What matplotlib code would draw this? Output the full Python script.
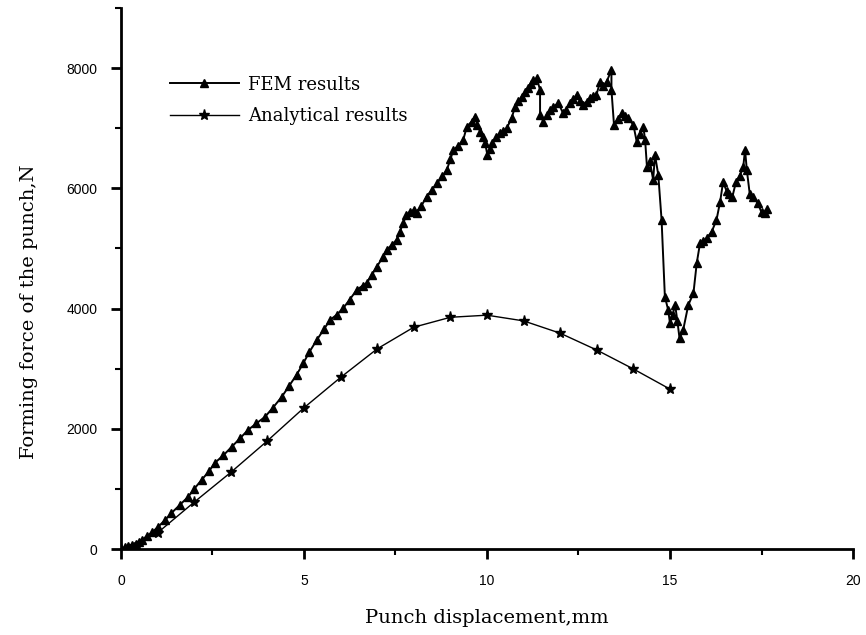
import matplotlib
matplotlib.use("Agg")
import matplotlib.pyplot as plt
from matplotlib.ticker import MultipleLocator

# FEM results, (displacement mm, force N)
fem_pts = [(0.0, 0), (0.1, 30), (0.2, 50), (0.3, 70), (0.4, 90), (0.5, 110), (0.57, 150),
           (0.7, 210), (0.85, 280), (1.01, 366), (1.2, 480), (1.38, 599), (1.6, 730),
           (1.83, 865), (2.0, 1000), (2.2, 1148), (2.4, 1290), (2.56, 1431), (2.8, 1560),
           (3.02, 1697), (3.25, 1840), (3.47, 1980), (3.7, 2090), (3.93, 2196), (4.15, 2350),
           (4.39, 2529), (4.6, 2720), (4.8, 2900), (4.98, 3090), (5.15, 3280), (5.35, 3478),
           (5.55, 3660), (5.71, 3810), (5.9, 3900), (6.07, 4005), (6.25, 4150), (6.44, 4310),
           (6.6, 4380), (6.71, 4420), (6.85, 4560), (6.99, 4697), (7.15, 4850), (7.26, 4975),
           (7.4, 5060), (7.53, 5141), (7.62, 5280), (7.71, 5419), (7.8, 5560), (7.9, 5612),
           (8.0, 5640), (8.08, 5585), (8.2, 5700), (8.35, 5862), (8.5, 5980), (8.63, 6085),
           (8.78, 6200), (8.9, 6306), (9.0, 6480), (9.08, 6639), (9.2, 6700), (9.35, 6805),
           (9.45, 7027), (9.58, 7110), (9.67, 7194), (9.74, 7060), (9.81, 6944), (9.9, 6850),
           (9.95, 6750), (10.01, 6556), (10.07, 6650), (10.13, 6750), (10.25, 6850),
           (10.36, 6917), (10.45, 6960), (10.54, 7000), (10.67, 7166), (10.77, 7360),
           (10.86, 7450), (10.95, 7527), (11.05, 7600), (11.13, 7666), (11.2, 7740),
           (11.27, 7804), (11.36, 7832), (11.45, 7637), (11.45, 7221), (11.54, 7110),
           (11.63, 7221), (11.72, 7300), (11.81, 7360), (11.95, 7416), (12.08, 7249),
           (12.15, 7300), (12.27, 7416), (12.36, 7480), (12.45, 7554), (12.55, 7450),
           (12.63, 7388), (12.72, 7440), (12.81, 7499), (12.9, 7530), (12.99, 7554),
           (13.09, 7775), (13.18, 7700), (13.27, 7775), (13.4, 7970), (13.4, 7637),
           (13.47, 7055), (13.57, 7150), (13.68, 7249), (13.77, 7200), (13.86, 7166),
           (14.0, 7055), (14.09, 6777), (14.18, 6900), (14.27, 7027), (14.32, 6805),
           (14.37, 6361), (14.45, 6450), (14.54, 6140), (14.59, 6556), (14.68, 6223),
           (14.77, 5474), (14.86, 4198), (14.95, 3977), (15.0, 3755), (15.07, 3900),
           (15.14, 4060), (15.2, 3800), (15.26, 3506), (15.36, 3644), (15.5, 4060),
           (15.64, 4254), (15.73, 4754), (15.82, 5087), (15.9, 5120), (16.0, 5170),
           (16.14, 5280), (16.27, 5474), (16.37, 5779), (16.45, 6106), (16.55, 5950),
           (16.62, 5900), (16.7, 5850), (16.8, 6100), (16.9, 6200), (17.0, 6350),
           (17.05, 6640), (17.1, 6300), (17.18, 5900), (17.28, 5850), (17.4, 5752),
           (17.5, 5600), (17.6, 5585), (17.65, 5650)]
fem_x = [p[0] for p in fem_pts]
fem_y = [p[1] for p in fem_pts]

# Analytical results
ana_x = [0, 1, 2, 3, 4, 5, 6, 7, 8, 9, 10, 11, 12, 13, 14, 15]
ana_y = [0, 270, 780, 1275, 1800, 2350, 2855, 3330, 3690, 3855, 3890, 3795, 3590, 3310, 2995, 2660]

fig = plt.figure(figsize=(8.66, 6.35), dpi=100)
ax = fig.add_axes([0.1397, 0.1354, 0.8453, 0.852])

ax.plot(fem_x, fem_y, '-', color='black', linewidth=1.4, marker='^',
        markersize=5.5, label='FEM results')
ax.plot(ana_x, ana_y, '-', color='black', linewidth=1.0, marker='*',
        markersize=8, label='Analytical results')

ax.set_xlim(0, 20)
ax.set_ylim(0, 9000)
ax.xaxis.set_major_locator(MultipleLocator(5))
ax.xaxis.set_minor_locator(MultipleLocator(2.5))
ax.yaxis.set_major_locator(MultipleLocator(2000))
ax.yaxis.set_minor_locator(MultipleLocator(1000))

for s in ['top', 'right']:
    ax.spines[s].set_visible(False)
for s in ['left', 'bottom']:
    ax.spines[s].set_linewidth(2)

ax.tick_params(which='major', direction='out', length=7, width=2)
ax.tick_params(which='minor', direction='out', length=4, width=1.5)
ax.tick_params(axis='x', which='major', pad=11)
ax.tick_params(axis='y', which='major', pad=10)
for lab in ax.get_xticklabels() + ax.get_yticklabels():
    lab.set_fontfamily('Liberation Sans')
    lab.set_fontsize(10)

ax.set_xlabel('Punch displacement,mm', fontfamily='DejaVu Serif', fontsize=14)
ax.set_ylabel('Forming force of the punch,N', fontfamily='DejaVu Serif', fontsize=14)
ax.xaxis.set_label_coords(0.5, -0.111)
ax.yaxis.set_label_coords(-0.114, 0.438)

ax.legend(loc='upper left', bbox_to_anchor=(0.045, 0.905), frameon=False,
          prop={'family': 'DejaVu Serif', 'size': 13}, handlelength=3.8,
          handletextpad=0.5, labelspacing=0.75)

fig.savefig('out.png', dpi=100)
